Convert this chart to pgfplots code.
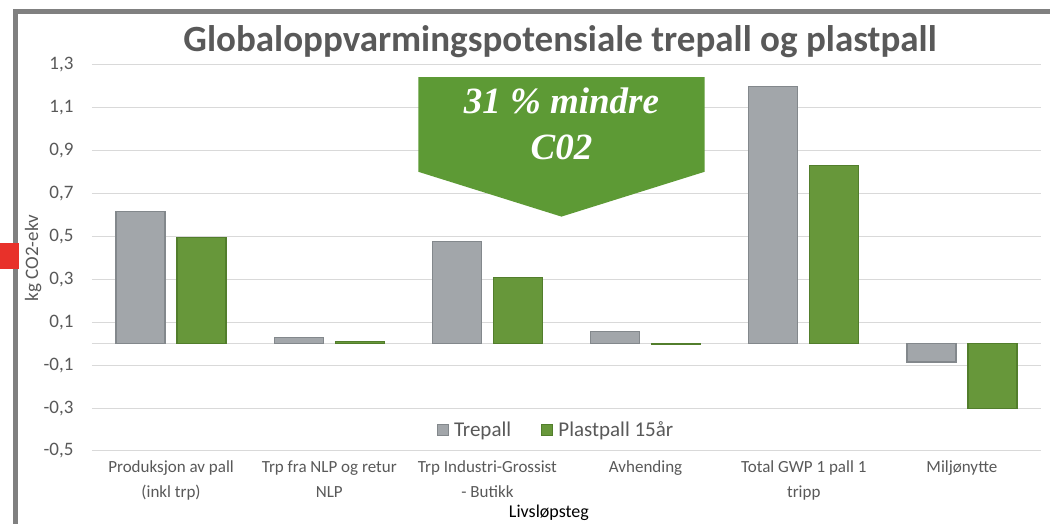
\documentclass[border=0pt]{standalone}
\usepackage{pgfplots}
\pgfplotsset{compat=1.18}
\usepackage{fontspec}
\setmainfont{Carlito}
\newfontfamily\timesf{Liberation Serif}
\definecolor{txtgray}{HTML}{595959}
\definecolor{gridgray}{HTML}{D9D9D9}
\definecolor{bordergray}{HTML}{808080}
\definecolor{treFill}{HTML}{A2A6AA}
\definecolor{treEdge}{HTML}{83888C}
\definecolor{plastFill}{HTML}{67973A}
\definecolor{plastEdge}{HTML}{527E2C}
\definecolor{arrowgreen}{HTML}{5D9A35}
\definecolor{redmark}{HTML}{E8312A}
\begin{document}
\begin{tikzpicture}
\useasboundingbox (-92pt,-73pt) rectangle (958pt,451pt);
\fill[white] (-92pt,-73pt) rectangle (958pt,451pt);
% frame
\fill[bordergray] (-79pt,-73pt) rectangle (-74pt,442pt);
\fill[bordergray] (-79pt,437pt) rectangle (958pt,442pt);
\fill[redmark] (-92pt,182pt) rectangle (-73pt,208pt);
\begin{axis}[
  at={(0pt,0pt)}, anchor=south west,
  scale only axis, width=949pt, height=386pt,
  xmin=-0.5, xmax=5.5, ymin=-0.5, ymax=1.3,
  axis line style={draw=none}, tick style={draw=none},
  ybar=12pt, bar width=49pt,
  ytick={-0.5,-0.3,-0.1,0.1,0.3,0.5,0.7,0.9,1.1,1.3},
  yticklabels={-0{,}5,-0{,}3,-0{,}1,0{,}1,0{,}3,0{,}5,0{,}7,0{,}9,1{,}1,1{,}3},
  extra y ticks={0}, extra y tick labels={},
  extra y tick style={grid=major, major grid style={gridgray, line width=1pt}},
  ymajorgrids, major grid style={gridgray, line width=1pt},
  yticklabel style={font=\fontsize{19}{22}\selectfont, text=txtgray, xshift=-15pt},
  xtick={0,1,2,3,4,5},
  xticklabels={{Produksjon av pall\\(inkl trp)},{Trp fra NLP og retur\\NLP},{Trp Industri-Grossist\\- Butikk},{Avhending},{Total GWP 1 pall 1\\tripp},{Miljønytte}},
  xticklabel style={font=\fontsize{17}{25}\selectfont, text=txtgray, align=center, anchor=north, yshift=-2pt},
  ylabel={kg CO2-ekv},
  ylabel style={at={(axis description cs:-0.062,0.5)}, anchor=center, font=\fontsize{19}{22}\selectfont, text=txtgray},
  xlabel={Livsløpsteg},
  xlabel style={at={(axis description cs:0.4815,-0.16)}, anchor=center, font=\fontsize{18}{20}\selectfont, text=black},
  legend columns=2,
  legend style={at={(axis description cs:0.489,0.054)}, anchor=center, draw=none, fill=none,
    font=\fontsize{21}{24}\selectfont, text=txtgray,
    /tikz/every even column/.append style={column sep=28pt}},
  legend image code/.code={\fill[#1] (0pt,-5pt) rectangle (11pt,6pt);},
]
\addplot[fill=treFill, draw=treEdge, line width=1.2pt] coordinates {(0,0.616) (1,0.030) (2,0.478) (3,0.058) (4,1.199) (5,-0.085)};
\addplot[fill=plastFill, draw=plastEdge, line width=1.2pt] coordinates {(0,0.495) (1,0.012) (2,0.310) (3,-0.003) (4,0.832) (5,-0.303)};
\legend{\hspace{3pt}Trepall, \hspace{3pt}Plastpall 15år}
\fill[arrowgreen] (axis cs:1.563,1.244) -- (axis cs:3.373,1.244) -- (axis cs:3.373,0.802) -- (axis cs:2.468,0.593) -- (axis cs:1.563,0.802) -- cycle;
\node[anchor=base, text=white, font=\timesf\bfseries\itshape\fontsize{37}{40}\selectfont] at (axis cs:2.468,1.076) {31 \% mindre};
\node[anchor=base, text=white, font=\timesf\bfseries\itshape\fontsize{37}{40}\selectfont] at (axis cs:2.468,0.857) {C02};
\end{axis}
\node[anchor=base, text=txtgray, font=\bfseries\fontsize{37}{40}\selectfont] at (468pt,399pt) {Globaloppvarmingspotensiale trepall og plastpall};
\end{tikzpicture}
\end{document}
